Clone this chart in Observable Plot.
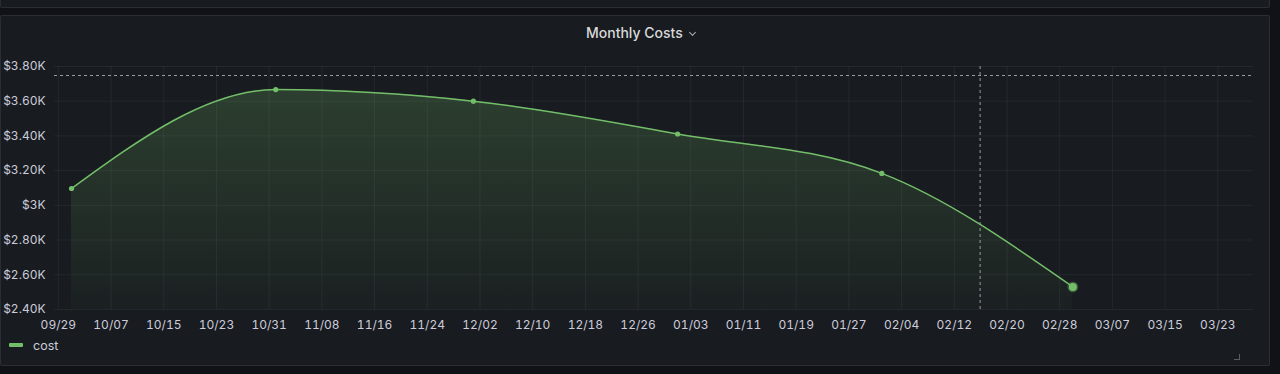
<!DOCTYPE html>
<html>
<head>
<meta charset="utf-8">
<script src="https://cdn.jsdelivr.net/npm/d3@7"></script>
<script src="https://cdn.jsdelivr.net/npm/@observablehq/plot@0.6"></script>
<style>
  html, body { margin: 0; padding: 0; background: #111217; width: 1280px; height: 374px; overflow: hidden; font-family: Inter, "Noto Sans", sans-serif; }
  .toppanel { position: absolute; left: 0; top: -10px; width: 1268px; height: 16px; background: #181b1f; border: 1px solid rgba(204,204,220,0.10); border-radius: 2px; }
  .panel { position: absolute; left: 0; top: 15px; width: 1268px; height: 349px; background: #181b1f; border: 1px solid rgba(204,204,220,0.10); border-radius: 2px; }
  .title { position: absolute; left: 586px; top: 24px; height: 18px; line-height: 18px; font-size: 14px; font-weight: 500; color: #d8d9da; white-space: nowrap; }
  .chev { display: inline-block; width: 4px; height: 4px; border-right: 1.3px solid #aeb0b8; border-bottom: 1.3px solid #aeb0b8; transform: rotate(45deg); margin-left: 7px; position: relative; top: -3px; }
  #chart { position: absolute; left: 0; top: 50px; }
  .legend { position: absolute; left: 9px; top: 337px; height: 16px; display: flex; align-items: center; font-size: 12.5px; color: #ccccdc; }
  .legend .sw { width: 14px; height: 4px; background: #73bf69; border-radius: 1px; margin-right: 10px; }
  .grip { position: absolute; left: 1234px; top: 354px; width: 5px; height: 5px; border-right: 1.5px solid #5a5c63; border-bottom: 1.5px solid #5a5c63; }
</style>
</head>
<body>
<div class="toppanel"></div>
<div class="panel"></div>
<div class="title">Monthly Costs<span class="chev"></span></div>
<div id="chart"></div>
<div class="legend"><span class="sw"></span><span>cost</span></div>
<div class="grip"></div>
<script>
// ---- data ----
const months = ["2023-10-01", "2023-11-01", "2023-12-01", "2024-01-01", "2024-02-01", "2024-03-01"];
const cost = [3097, 3667, 3600, 3411, 3184, 2530];
const xTickDates = ["2023-09-29", "2023-10-07", "2023-10-15", "2023-10-23", "2023-10-31", "2023-11-08",
  "2023-11-16", "2023-11-24", "2023-12-02", "2023-12-10", "2023-12-18", "2023-12-26", "2024-01-03",
  "2024-01-11", "2024-01-19", "2024-01-27", "2024-02-04", "2024-02-12", "2024-02-20", "2024-02-28",
  "2024-03-07", "2024-03-15", "2024-03-23"];
const yTicks = [2400, 2600, 2800, 3000, 3200, 3400, 3600, 3800];
const yTickLabels = ["$2.40K", "$2.60K", "$2.80K", "$3K", "$3.20K", "$3.40K", "$3.60K", "$3.80K"];
const timeRange = ["2023-09-28T10:00:00Z", "2024-03-28T10:00:00Z"];
const hoverTime = "2024-02-15T22:00:00Z";
const hoverValue = 3748;

// ---- build ----
const data = months.map((m, i) => ({date: new Date(m + "T00:00:00Z"), cost: cost[i]}));
const xTicks = xTickDates.map(d => new Date(d + "T00:00:00Z"));
const W = 1270, H = 290, mt = 16, mb = 31, ml = 54, mr = 17;
const green = "#73bf69";

const defs = () => {
  const g = d3.create("svg:g");
  const lg = g.append("defs").append("linearGradient")
    .attr("id", "costFill").attr("gradientUnits", "userSpaceOnUse")
    .attr("x1", 0).attr("x2", 0).attr("y1", mt).attr("y2", H - mb);
  lg.append("stop").attr("offset", 0).attr("stop-color", green).attr("stop-opacity", 0.24);
  lg.append("stop").attr("offset", 1).attr("stop-color", green).attr("stop-opacity", 0.03);
  return g.node();
};

const chart = Plot.plot({
  width: W, height: H,
  marginTop: mt, marginBottom: mb, marginLeft: ml, marginRight: mr,
  style: {background: "transparent", color: "#ccccdc", fontFamily: "Inter, sans-serif", fontSize: "12px"},
  x: {type: "utc", domain: timeRange.map(d => new Date(d))},
  y: {domain: [yTicks[0], yTicks[yTicks.length - 1]]},
  marks: [
    defs,
    Plot.gridY(yTicks, {stroke: "#ccccdc", strokeOpacity: 0.07}),
    Plot.gridX(xTicks, {stroke: "#ccccdc", strokeOpacity: 0.07}),
    Plot.axisY({ticks: yTicks, tickFormat: v => yTickLabels[yTicks.indexOf(v)], tickSize: 0, tickPadding: 9, label: null, fill: "#ccccdc"}),
    Plot.axisX({ticks: xTicks, tickFormat: d3.utcFormat("%m/%d"), tickSize: 0, tickPadding: 11, label: null, fill: "#ccccdc"}),
    Plot.areaY(data, {x: "date", y1: yTicks[0], y2: "cost", curve: "monotone-x", fill: "url(#costFill)"}),
    Plot.line(data, {x: "date", y: "cost", curve: "monotone-x", stroke: green, strokeWidth: 1.5}),
    Plot.ruleY([hoverValue], {stroke: "#9a9ca4", strokeDasharray: "3,3", strokeWidth: 1}),
    Plot.ruleX([new Date(hoverTime)], {stroke: "#9a9ca4", strokeDasharray: "3,3", strokeWidth: 1}),
    Plot.dot(data.slice(0, -1), {x: "date", y: "cost", r: 2.6, fill: green}),
    Plot.dot(data.slice(-1), {x: "date", y: "cost", r: 4, fill: green, stroke: green, strokeOpacity: 0.35, strokeWidth: 3})
  ]
});
document.getElementById("chart").appendChild(chart);
</script>
</body>
</html>
